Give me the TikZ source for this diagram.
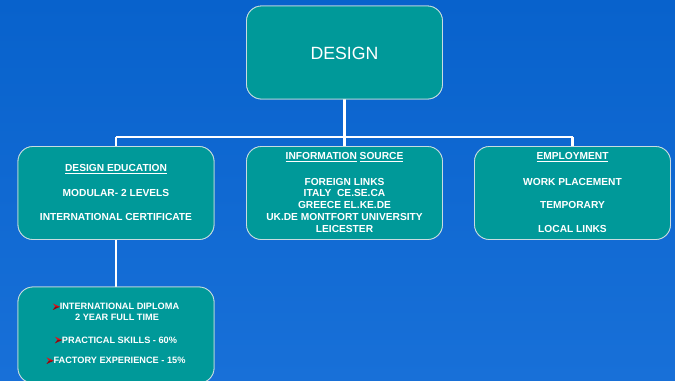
\documentclass[tikz,border=0pt]{standalone}
\usepackage{fontspec}
\setmainfont{Liberation Sans}
\definecolor{bgtop}{RGB}{8,98,204}
\definecolor{bgbot}{RGB}{24,112,216}
\definecolor{teal}{RGB}{0,153,153}
\definecolor{edge}{RGB}{200,220,225}
\definecolor{bul}{RGB}{220,20,30}
\tikzset{
  box/.style={draw=edge, line width=0.8bp, fill=teal, rounded corners=15bp, minimum width=196bp, minimum height=93bp, inner sep=0pt},
  txt/.style={text=white, font=\fontsize{10.2bp}{11bp}\selectfont\bfseries, inner sep=0pt, anchor=center},
  dtxt/.style={txt, font=\fontsize{9.2bp}{10bp}\selectfont\bfseries},
  conn/.style={draw=white, line width=2.2bp},
}
\newcommand{\bu}{\tikz[baseline=0pt,x=1bp,y=1bp]{\fill[bul] (0,0)--(2.5,3.3)--(0,6.6)--(7,3.3)--cycle; \fill[bul!60!black] (0,0)--(2.5,3.3)--(7,3.3)--cycle;}}
\newcommand{\ul}[1]{\underline{#1}}
\begin{document}
\begin{tikzpicture}[x=1bp,y=-1bp]
\shade[top color=bgtop, bottom color=bgbot] (0,0) rectangle (675,380);
\useasboundingbox (0,0) rectangle (675,380);
\node[box] (design) at (344.5,52.5) {};
\node[box] (edu) at (116,193) {};
\node[box] (info) at (344.5,193) {};
\node[box] (emp) at (572.5,193) {};
\node[box, minimum height=96bp] (dip) at (116,335) {};
\coordinate (j) at (344.5,137);
\coordinate (jl) at (116,137);
\coordinate (jr) at (572.5,137);
\path[conn] (design.south) -- (j);
\path[conn] (jl) -- (jr);
\path[conn] (jl) -- (edu.north);
\path[conn] (j) -- (info.north);
\path[conn] (jr) -- (emp.north);
\path[conn] (edu.south) -- (dip.north);
% redraw boxes on top of connector ends
\node[box] at (design) {};
\node[box] at (edu) {};
\node[box] at (info) {};
\node[box] at (emp) {};
\node[box, minimum height=96bp] at (dip) {};
% texts
\node[text=white, font=\fontsize{17.7bp}{20bp}\selectfont, inner sep=0pt] (t0) at (344.5,53) {DESIGN};
\node[txt] (e1) at (116,169.3) {\ul{DESIGN EDUCATION}};
\node[txt] (e2) at (116,193.3) {MODULAR- 2 LEVELS};
\node[txt] (e3) at (116,217.3) {INTERNATIONAL CERTIFICATE};
\node[txt] (i1) at (344.5,157.3) {\ul{INFORMATION} \ul{SOURCE}};
\node[txt] (i2) at (344.5,181.7) {FOREIGN LINKS};
\node[txt] (i3) at (344.5,193.3) {ITALY\ \ CE.SE.CA};
\node[txt] (i4) at (344.5,205) {GREECE EL.KE.DE};
\node[txt] (i5) at (344.5,217.3) {UK.DE MONTFORT UNIVERSITY};
\node[txt] (i6) at (344.5,229) {LEICESTER};
\node[txt] (m1) at (572.5,157.3) {\ul{EMPLOYMENT}};
\node[txt] (m2) at (572.5,181.7) {WORK PLACEMENT};
\node[txt] (m3) at (572.5,205) {TEMPORARY};
\node[txt] (m4) at (572.5,229) {LOCAL LINKS};
\node[dtxt] (d1) at (116,306.7) {\bu INTERNATIONAL DIPLOMA};
\node[dtxt] (d2) at (117,317.3) {2 YEAR FULL TIME};
\node[dtxt] (d3) at (116,340) {\bu PRACTICAL SKILLS - 60\%};
\node[dtxt] (d4) at (116,360.7) {\bu FACTORY EXPERIENCE - 15\%};
\end{tikzpicture}
\end{document}
